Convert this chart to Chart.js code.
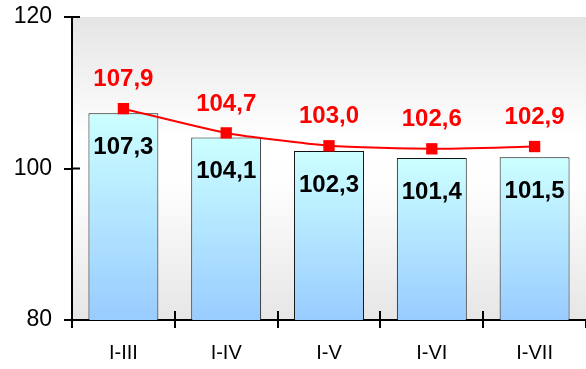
<!DOCTYPE html>
<html>
<head>
<meta charset="utf-8">
<script src="https://cdn.jsdelivr.net/npm/chart.js@4"></script>
<style>
  html, body { margin: 0; padding: 0; background: #fff; }
  #wrap { width: 586px; height: 369px; }
</style>
</head>
<body>
<div id="wrap"><canvas id="chart"></canvas></div>
<script>
// dados
const categories = ['I-III', 'I-IV', 'I-V', 'I-VI', 'I-VII'];
const barValues = [107.3, 104.1, 102.3, 101.4, 101.5];
const lineValues = [107.9, 104.7, 103.0, 102.6, 102.9];
const yMin = 80, yMax = 120, yStep = 20;

const fontFamily = '"Liberation Sans", Arial, sans-serif';
const fmt = v => v.toFixed(1).replace('.', ',');

// fundo do gráfico em degradê
const plotBackground = {
  id: 'plotBackground',
  beforeDraw(chart) {
    const { ctx, chartArea: a } = chart;
    const g = ctx.createLinearGradient(0, a.top, 0, a.bottom);
    g.addColorStop(0, '#e5e5e5');
    g.addColorStop(0.4, '#ffffff');
    g.addColorStop(0.55, '#fefefe');
    g.addColorStop(1, '#e6e6e6');
    ctx.save();
    ctx.fillStyle = g;
    ctx.fillRect(a.left, a.top, a.right - a.left, a.bottom - a.top);
    ctx.restore();
  }
};

// marcas internas dos eixos + rótulos de valores
const extras = {
  id: 'extras',
  afterDraw(chart) {
    const { ctx, chartArea: a, scales } = chart;
    ctx.save();
    ctx.strokeStyle = '#000';
    ctx.lineWidth = 2;
    scales.y.ticks.forEach(t => {
      const y = scales.y.getPixelForValue(t.value);
      ctx.beginPath();
      ctx.moveTo(a.left, y);
      ctx.lineTo(a.left + 8, y);
      ctx.stroke();
    });
    const step = (a.right - a.left) / categories.length;
    for (let i = 1; i < categories.length; i++) {
      const x = Math.round(scales.x.getPixelForValue(i) - step / 2);
      ctx.beginPath();
      ctx.moveTo(x, a.bottom - 9);
      ctx.lineTo(x, a.bottom);
      ctx.stroke();
    }
    ctx.textAlign = 'center';
    ctx.textBaseline = 'middle';
    ctx.font = 'bold 24px ' + fontFamily;
    chart.getDatasetMeta(0).data.forEach((bar, i) => {
      ctx.fillStyle = '#000';
      ctx.fillText(fmt(barValues[i]), bar.x, bar.y + 34);
    });
    chart.getDatasetMeta(1).data.forEach((pt, i) => {
      ctx.fillStyle = '#ff0000';
      ctx.fillText(fmt(lineValues[i]), pt.x, pt.y - 29);
    });
    ctx.restore();
  }
};

new Chart(document.getElementById('chart'), {
  data: {
    labels: categories,
    datasets: [{
      type: 'bar',
      data: barValues,
      order: 1,
      borderColor: '#111',
      borderWidth: 1,
      barPercentage: 0.68,
      categoryPercentage: 1,
      backgroundColor: (c) => {
        const chart = c.chart;
        if (!chart.chartArea) return '#bfefff';
        const top = chart.scales.y.getPixelForValue(c.raw);
        const g = chart.ctx.createLinearGradient(0, top, 0, chart.chartArea.bottom);
        g.addColorStop(0, '#ccffff');
        g.addColorStop(1, '#99ccff');
        return g;
      }
    }, {
      type: 'line',
      data: lineValues,
      order: 0,
      borderColor: '#ff0000',
      borderWidth: 2,
      tension: 0.2,
      pointStyle: 'rect',
      pointRadius: 8,
      pointBackgroundColor: '#ff0000',
      pointBorderColor: '#ff0000',
      pointBorderWidth: 0
    }]
  },
  options: {
    responsive: true,
    maintainAspectRatio: false,
    animation: false,
    layout: { autoPadding: false, padding: { top: 17, right: 0, left: 0, bottom: 0 } },
    plugins: {
      legend: { display: false },
      tooltip: { enabled: false }
    },
    scales: {
      x: {
        afterFit: s => { s.height = 49; s.paddingLeft = 0; s.paddingRight = 0; },
        grid: { drawOnChartArea: false, color: '#000', lineWidth: 2, tickLength: 8 },
        border: { color: '#000', width: 2 },
        ticks: { color: '#000', padding: 13, font: { family: fontFamily, size: 20 } }
      },
      y: {
        min: yMin,
        max: yMax,
        afterFit: s => { s.width = 72; s.paddingTop = 0; s.paddingBottom = 0; },
        grid: { drawOnChartArea: false, color: '#000', lineWidth: 2, tickLength: 8 },
        border: { color: '#000', width: 2 },
        ticks: { stepSize: yStep, color: '#000', padding: 12, font: { family: fontFamily, size: 23 } }
      }
    }
  },
  plugins: [plotBackground, extras]
});
</script>
</body>
</html>
